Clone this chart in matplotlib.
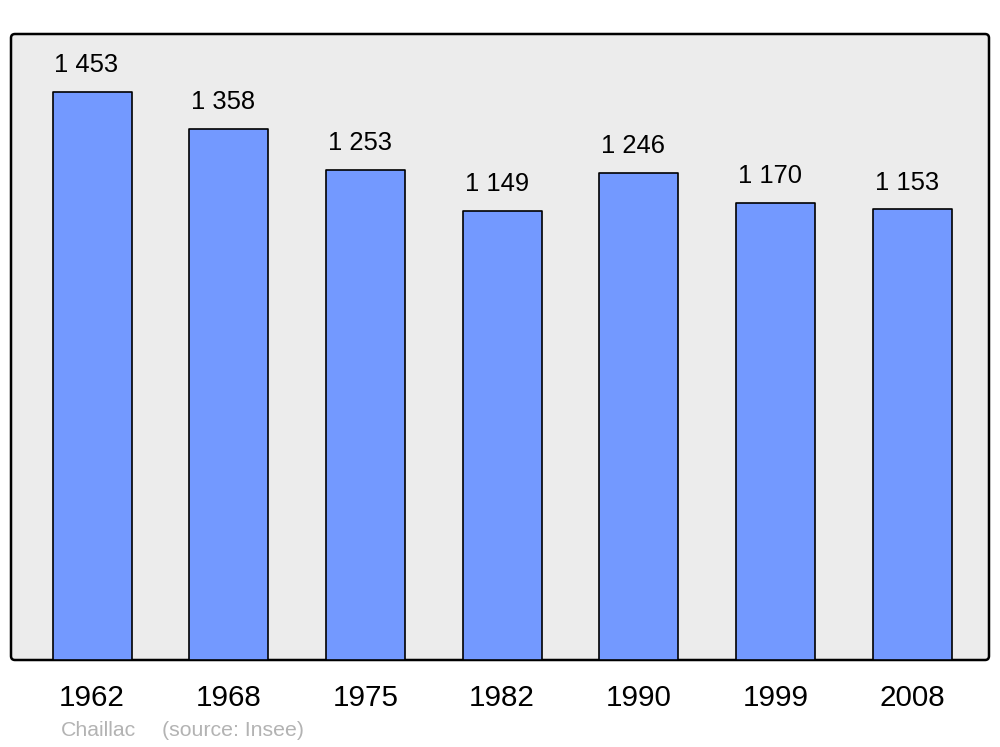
import matplotlib.pyplot as plt
from matplotlib.patches import FancyBboxPatch
from matplotlib.transforms import IdentityTransform

years = ['1962', '1968', '1975', '1982', '1990', '1999', '2008']
population = [1453, 1358, 1253, 1149, 1246, 1170, 1153]
commune = 'Chaillac'
source = '(source: Insee)'

plt.rcParams['font.family'] = ['Liberation Sans', 'DejaVu Sans']

fig = plt.figure(figsize=(10, 7.47), dpi=100)
ax = fig.add_axes([0.011, 87 / 747, 0.978, 626 / 747])
ax.patch.set_visible(False)
for s in ax.spines.values():
    s.set_visible(False)

# rounded background frame, in pixels
frame = FancyBboxPatch((11, 87), 978, 626, boxstyle='round,pad=0,rounding_size=4',
                       facecolor='#ececec', edgecolor='black', linewidth=1.8,
                       transform=IdentityTransform(), zorder=0)
fig.add_artist(frame)

x = list(range(len(years)))
bars = ax.bar(x, population, width=0.578, color='#7399ff', edgecolor='black',
              linewidth=1.2, zorder=2)
for b in bars:
    b.set_joinstyle('round')

for xi, v in zip(x, population):
    label = f'{v:,}'.replace(',', ' ')
    ax.annotate(label, (xi, v), xytext=(-4, 10.5), textcoords='offset points',
                ha='center', va='bottom', fontsize=18.4)

ax.set_xlim(-0.593, 6.562)
ax.set_ylim(0, 1601)
ax.set_yticks([])
ax.set_xticks(x)
ax.set_xticklabels(years, fontsize=21.3)
ax.tick_params(axis='x', length=0, pad=17)

fig.text(61 / 1000, 1 - 730 / 747, commune, fontsize=15.3, color='#b3b3b3',
         ha='left', va='center')
fig.text(162 / 1000, 1 - 730 / 747, source, fontsize=15.3, color='#b3b3b3',
         ha='left', va='center')

fig.savefig('out.png', dpi=100)
